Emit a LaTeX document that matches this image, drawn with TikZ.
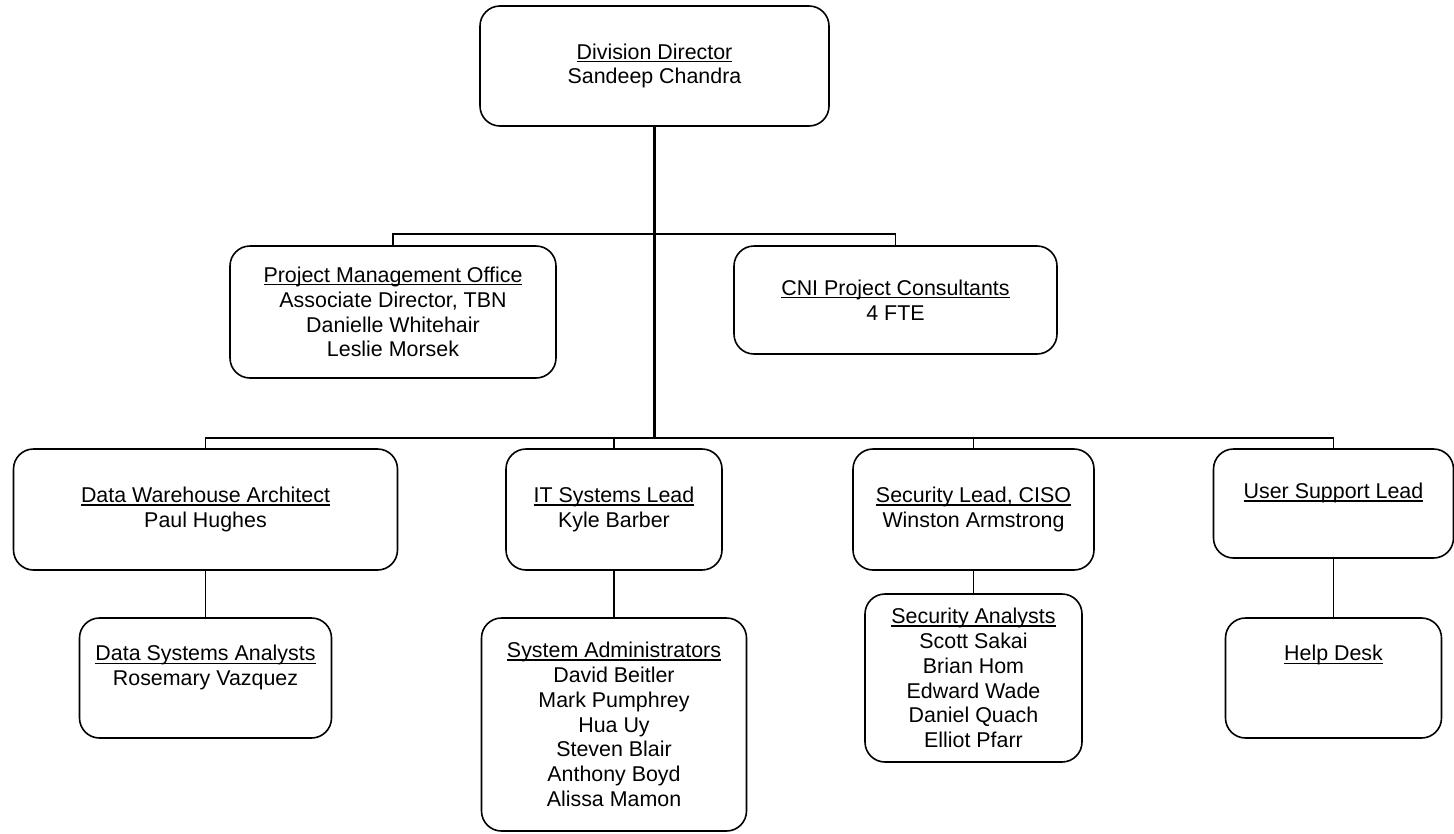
\documentclass[tikz,border=0pt]{standalone}
\usepackage{fontspec}
\setmainfont{Liberation Sans}
\newcommand\myul[1]{\setbox0\hbox{#1}\rlap{\rule[-3pt]{\wd0}{1.4pt}}\box0}
\begin{document}
\begin{tikzpicture}[x=1pt,y=-1pt,
  box/.style={draw, line width=1.6pt, rounded corners=20pt, align=center,
    inner sep=0pt, outer sep=0pt, font=\fontsize{21.4}{24.8}\selectfont},
  conn/.style={line width=1.6pt},
  trunk/.style={line width=2.4pt}]
\useasboundingbox (0,0) rectangle (1454,833);
\node[box, minimum width=349pt, minimum height=120pt] (dir) at (654.5,66) {\myul{Division Director}\\Sandeep Chandra};
\node[box, minimum width=326pt, minimum height=132pt] (pmo) at (393,312) {\myul{Project Management Office}\\Associate Director, TBN\\Danielle Whitehair\\Leslie Morsek};
\node[box, minimum width=323pt, minimum height=108pt] (cni) at (895.5,300) {\myul{CNI Project Consultants}\\4 FTE};
\node[box, minimum width=384pt, minimum height=121pt] (dwa) at (205.5,509.5) {\myul{Data Warehouse Architect}\\Paul Hughes};
\node[box, minimum width=216pt, minimum height=121pt] (its) at (614,509.5) {\myul{IT Systems Lead}\\Kyle Barber};
\node[box, minimum width=241pt, minimum height=121pt] (sec) at (973.5,509.5) {\myul{Security Lead, CISO}\\Winston Armstrong};
\node[box, minimum width=240pt, minimum height=109pt] (usl) at (1333.5,503.5) {\myul{User Support Lead}\\\mbox{}};
\node[box, minimum width=252pt, minimum height=120pt] (dsa) at (205.5,678) {\myul{Data Systems Analysts}\\Rosemary Vazquez\\\mbox{}};
\node[box, minimum width=265pt, minimum height=213pt] (sys) at (614,724.5) {\myul{System Administrators}\\David Beitler\\Mark Pumphrey\\Hua Uy\\Steven Blair\\Anthony Boyd\\Alissa Mamon};
\node[box, minimum width=217pt, minimum height=168pt] (sa) at (973.5,678) {\myul{Security Analysts}\\Scott Sakai\\Brian Hom\\Edward Wade\\Daniel Quach\\Elliot Pfarr};
\node[box, minimum width=216pt, minimum height=120pt] (hd) at (1333.5,678) {\myul{Help Desk}\\\mbox{}\\\mbox{}};
\coordinate (j1) at (654.5,234);
\coordinate (j2) at (654.5,438);
\draw[trunk] (dir.south) -- (j2);
\draw[conn] (pmo.north) -- (pmo.north |- j1) -- (cni.north |- j1) -- (cni.north);
\draw[conn] (dwa.north) -- (dwa.north |- j2) -- (usl.north |- j2) -- (usl.north);
\draw[conn] (its.north) -- (its.north |- j2);
\draw[conn] (sec.north) -- (sec.north |- j2);
\draw[conn] (dwa.south) -- (dsa.north);
\draw[conn] (its.south) -- (sys.north);
\draw[conn] (sec.south) -- (sa.north);
\draw[conn] (usl.south) -- (hd.north);
\end{tikzpicture}
\end{document}
